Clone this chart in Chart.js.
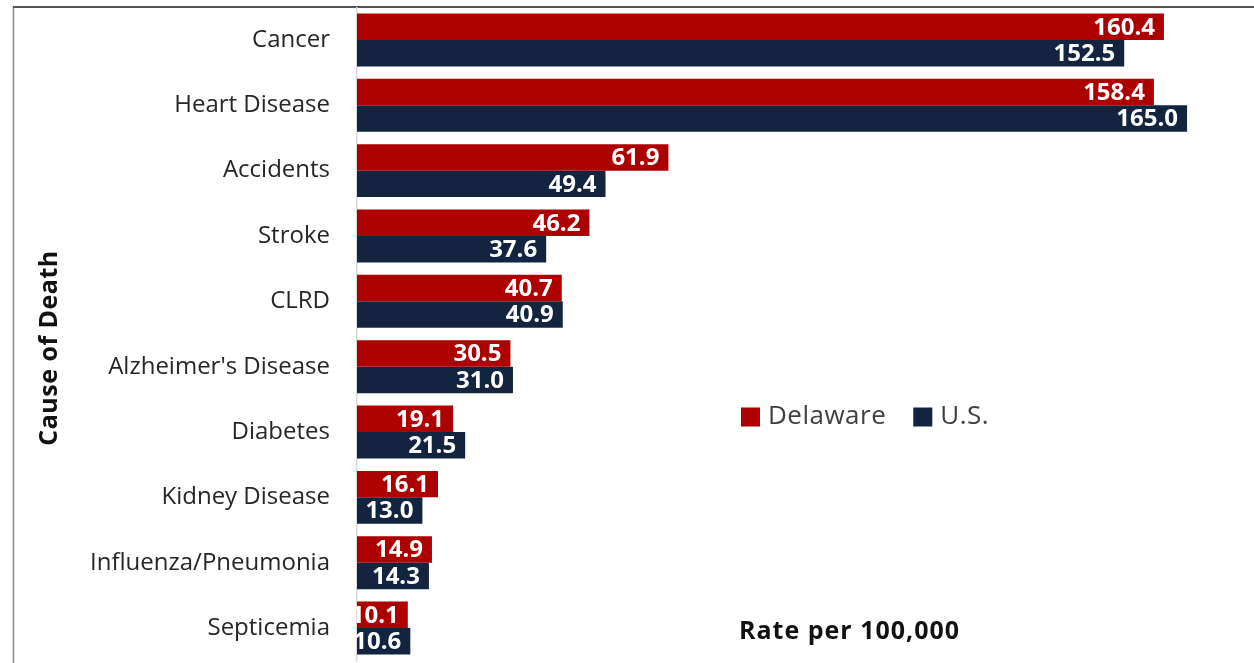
<!DOCTYPE html>
<html>
<head>
<meta charset="utf-8">
<script src="https://cdn.jsdelivr.net/npm/chart.js@4/dist/chart.umd.min.js"></script>
<style>
  html, body { margin: 0; padding: 0; background: #fff; overflow: hidden; }
  #chart { display: block; }
</style>
</head>
<body>
<canvas id="chart" width="1254" height="663"></canvas>
<script>
// Leading causes of death, age-adjusted rate per 100,000
const causes = ['Cancer', 'Heart Disease', 'Accidents', 'Stroke', 'CLRD',
    "Alzheimer's Disease", 'Diabetes', 'Kidney Disease', 'Influenza/Pneumonia', 'Septicemia'];
const delaware = [160.4, 158.4, 61.9, 46.2, 40.7, 30.5, 19.1, 16.1, 14.9, 10.1];
const us = [152.5, 165.0, 49.4, 37.6, 40.9, 31.0, 21.5, 13.0, 14.3, 10.6];

const RED = '#ad0000';
const NAVY = '#12243f';
const FONT = '"Open Sans", "Noto Sans", sans-serif';

// outer frame of the figure box
const framePlugin = {
    id: 'frame',
    beforeDraw(chart) {
        const ctx = chart.ctx;
        ctx.save();
        ctx.strokeStyle = '#8a8a8a';
        ctx.lineWidth = 1.5;
        ctx.beginPath();
        ctx.moveTo(13.5, 7);
        ctx.lineTo(13.5, chart.height);
        ctx.stroke();
        ctx.strokeStyle = '#555';
        ctx.lineWidth = 2;
        ctx.beginPath();
        ctx.moveTo(13, 7);
        ctx.lineTo(chart.width, 7);
        ctx.stroke();
        ctx.restore();
    }
};

// value labels inside the end of each bar
const valueLabels = {
    id: 'valueLabels',
    afterDatasetsDraw(chart) {
        const ctx = chart.ctx;
        ctx.save();
        ctx.fillStyle = '#fff';
        ctx.font = 'bold 24px ' + FONT;
        ctx.textAlign = 'right';
        ctx.textBaseline = 'middle';
        chart.data.datasets.forEach((ds, i) => {
            chart.getDatasetMeta(i).data.forEach((bar, j) => {
                ctx.fillText(ds.data[j].toFixed(1), bar.x - 9, bar.y + 1);
            });
        });
        ctx.restore();
    }
};

// legend, axis titles placed by hand
const annotations = {
    id: 'annotations',
    afterDraw(chart) {
        const ctx = chart.ctx;
        ctx.save();
        ctx.textBaseline = 'middle';
        ctx.textAlign = 'left';
        let x = 741;
        const y = 417;
        ctx.font = '26px ' + FONT;
        ctx.letterSpacing = '0.5px';
        chart.data.datasets.forEach(ds => {
            ctx.fillStyle = ds.backgroundColor;
            ctx.fillRect(x, y - 9.5, 19, 19);
            ctx.fillStyle = '#404040';
            ctx.fillText(ds.label, x + 27, y);
            x += 27 + ctx.measureText(ds.label).width + 27;
        });

        ctx.fillStyle = '#111';
        ctx.font = 'bold 25px ' + FONT;
        ctx.letterSpacing = '1px';
        ctx.fillText('Rate per 100,000', 739, 632);

        // y axis title
        ctx.translate(50, 348);
        ctx.rotate(-Math.PI / 2);
        ctx.textAlign = 'center';
        ctx.letterSpacing = '0.5px';
        ctx.font = 'bold 25px ' + FONT;
        ctx.fillText('Cause of Death', 0, 0);
        ctx.restore();
    }
};

new Chart(document.getElementById('chart'), {
    type: 'bar',
    data: {
        labels: causes,
        datasets: [
            { label: 'Delaware', data: delaware, backgroundColor: RED },
            { label: 'U.S.', data: us, backgroundColor: NAVY }
        ]
    },
    options: {
        indexAxis: 'y',
        responsive: false,
        animation: false,
        layout: { padding: { left: 14, top: 7.3, bottom: 2.3, right: 0 } },
        datasets: { bar: { categoryPercentage: 0.81, barPercentage: 1.0 } },
        plugins: {
            legend: { display: false },
            tooltip: { enabled: false }
        },
        scales: {
            x: {
                display: false,
                min: 0,
                max: 178.3
            },
            y: {
                afterFit(scale) {
                    scale.width = 343;
                    scale.paddingTop = 0;
                    scale.paddingBottom = 0;
                },
                grid: { display: false, drawTicks: false },
                border: { display: true, color: '#d9d9d9', width: 1.5 },
                ticks: {
                    color: '#262626',
                    padding: 27,
                    font: { family: FONT, size: 24 }
                }
            }
        }
    },
    plugins: [framePlugin, valueLabels, annotations]
});
</script>
</body>
</html>
